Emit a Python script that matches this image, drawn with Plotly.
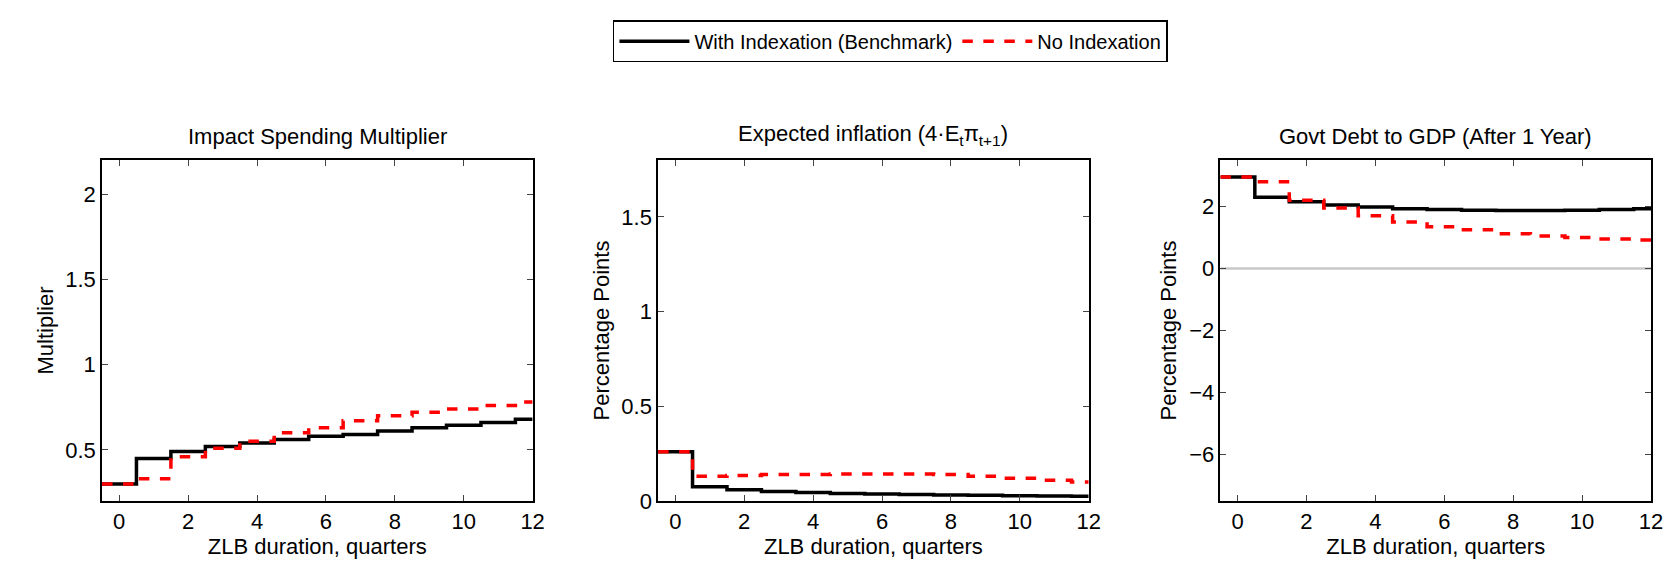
import numpy as np
import plotly.graph_objects as go
from plotly.subplots import make_subplots

quarters = list(range(13))

mult_index = [0.30, 0.45, 0.49, 0.52, 0.54, 0.56, 0.58, 0.59, 0.61, 0.63, 0.645, 0.66, 0.68]
mult_noindex = [0.30, 0.33, 0.46, 0.51, 0.55, 0.60, 0.63, 0.67, 0.70, 0.72, 0.74, 0.76, 0.78]

infl_index = [0.26, 0.075, 0.06, 0.05, 0.045, 0.04, 0.037, 0.034, 0.032, 0.03, 0.028, 0.026, 0.025]
infl_noindex = [0.26, 0.13, 0.135, 0.14, 0.14, 0.142, 0.143, 0.142, 0.14, 0.13, 0.12, 0.11, 0.10]

debt_index = [2.95, 2.3, 2.15, 2.05, 1.98, 1.93, 1.9, 1.88, 1.87, 1.87, 1.88, 1.9, 1.93]
debt_noindex = [2.95, 2.8, 2.2, 1.95, 1.7, 1.5, 1.35, 1.25, 1.12, 1.05, 1.0, 0.95, 0.92]

titles = ["Impact Spending Multiplier",
          "Expected inflation (4·E<sub>t</sub>π<sub>t+1</sub>)",
          "Govt Debt to GDP (After 1 Year)"]


def steps(vals):
    # step edges at half quarters, last value held to x=12
    x = [q - 0.5 for q in quarters] + [12]
    y = list(vals) + [vals[-1]]
    return x, y


fig = make_subplots(rows=1, cols=3)
font = dict(family="Liberation Sans, Arial, sans-serif", size=22, color="black")

panels = [(mult_index, mult_noindex), (infl_index, infl_noindex), (debt_index, debt_noindex)]
for i, (a, b) in enumerate(panels, start=1):
    if i == 3:
        fig.add_trace(go.Scatter(x=[-0.5, 12], y=[0, 0], mode="lines",
                                 line=dict(color="#c8c8c8", width=2.5),
                                 showlegend=False, hoverinfo="skip"), row=1, col=i)
    xa, ya = steps(a)
    xb, yb = steps(b)
    fig.add_trace(go.Scatter(x=xa, y=ya, mode="lines", line_shape="hv",
                             line=dict(color="black", width=3.5),
                             name="With Indexation (Benchmark)", showlegend=(i == 1)),
                  row=1, col=i)
    fig.add_trace(go.Scatter(x=xb, y=yb, mode="lines", line_shape="hv",
                             line=dict(color="red", width=3.5, dash="dash"),
                             name="No Indexation", showlegend=(i == 1)),
                  row=1, col=i)

domains = [[0, 0.278], [0.359, 0.637], [0.722, 1.0]]
yranges = [[0.2, 2.2], [0, 1.8], [-7.5, 3.5]]
ytick = [[0.5, 1, 1.5, 2], [0, 0.5, 1, 1.5], [-6, -4, -2, 0, 2]]
ylabels = ["Multiplier", "Percentage Points", "Percentage Points"]

for i in range(3):
    fig.update_xaxes(domain=domains[i], range=[-0.5, 12], tickvals=list(range(0, 13, 2)),
                     ticks="inside", ticklen=6, showline=True, linecolor="black",
                     linewidth=1.5, mirror="ticks", showgrid=False, zeroline=False,
                     title_text="ZLB duration, quarters", title_standoff=0,
                     tickfont=font, title_font=font, row=1, col=i + 1)
    fig.update_yaxes(range=yranges[i], tickvals=ytick[i], ticks="inside", ticklen=6,
                     showline=True, linecolor="black", linewidth=1.5, mirror="ticks",
                     showgrid=False, zeroline=False, title_text=ylabels[i],
                     title_standoff=6, tickfont=font, title_font=font,
                     row=1, col=i + 1)
    fig.add_annotation(text=titles[i], x=sum(domains[i]) / 2, y=1.025,
                       xref="paper", yref="paper", xanchor="center", yanchor="bottom",
                       showarrow=False, font=font)

fig.update_layout(
    width=1671, height=564, plot_bgcolor="white", paper_bgcolor="white",
    margin=dict(l=94, r=28, t=146, b=71),
    font=font,
    legend=dict(orientation="h", x=0.509, xanchor="center", y=1.41, yanchor="top",
                bordercolor="black", borderwidth=1.5, font=dict(size=20),
                itemwidth=70, tracegroupgap=20),
)

fig.write_html("out.html")
